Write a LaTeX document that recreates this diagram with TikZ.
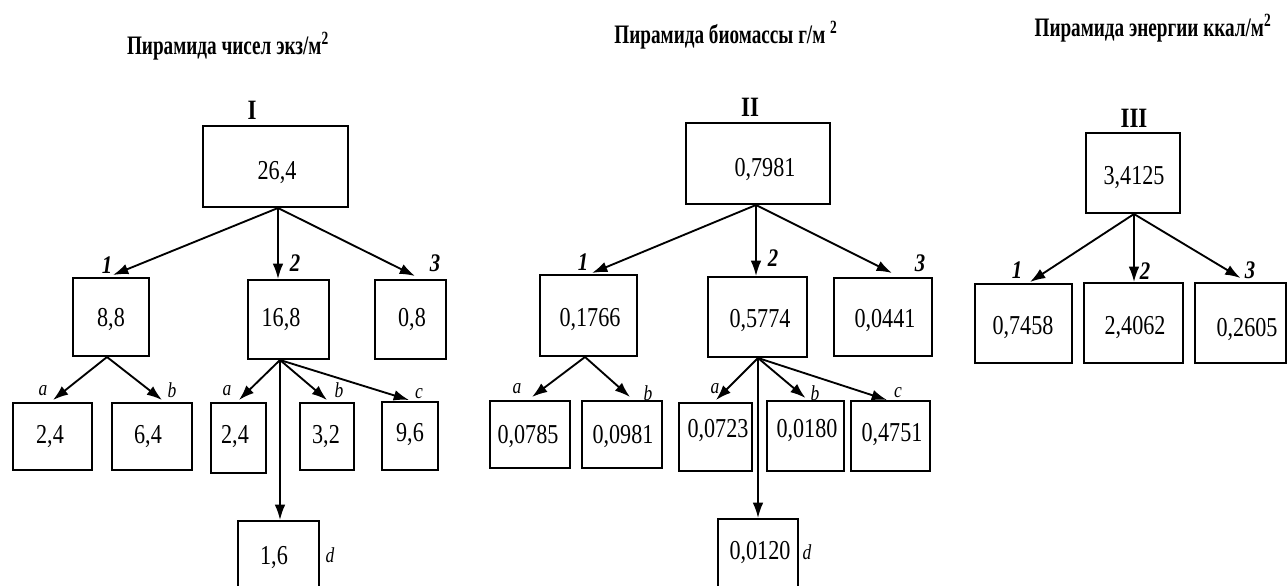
\documentclass[tikz,border=0pt]{standalone}
\usepackage{fontspec}
\setmainfont{Liberation Serif}
\newfontfamily\numfont{Liberation Serif}[FakeStretch=0.81]
\newfontfamily\ttlfont{Liberation Serif}[FakeStretch=0.72]
\newfontfamily\lblfont{Liberation Serif}[FakeStretch=0.82]
\usetikzlibrary{arrows.meta,calc}
\begin{document}
\begin{tikzpicture}[x=0.75pt,y=-0.75pt,
  box/.style n args={2}{draw, line width=1.5pt, inner sep=0pt, minimum width=#1*0.75pt, minimum height=#2*0.75pt},
  num/.style={font=\numfont\fontsize{20.5}{22}\selectfont, inner sep=0pt, text depth=0pt},
  ttl/.style={font=\ttlfont\fontsize{20}{22}\selectfont\bfseries, inner sep=0pt, text depth=0pt},
  rom/.style={font=\lblfont\fontsize{21}{23}\selectfont\bfseries, inner sep=0pt, text depth=0pt},
  lvl/.style={font=\lblfont\fontsize{19}{21}\selectfont\bfseries\itshape, inner sep=0pt, text depth=0pt},
  sub/.style={font=\lblfont\fontsize{16}{18}\selectfont\itshape, inner sep=0pt, text depth=0pt},
  arr/.style={line width=1.4pt, -{Latex[length=11.5pt,width=8pt]}}]
\useasboundingbox (0,0) rectangle (1287,585);
\clip (0,0) rectangle (1287,585);

% ---------- titles ----------
\node[ttl] (T1) at (228,43) {Пирамида чисел экз/м\textsuperscript{2}};
\node[ttl] (T2) at (726,32) {Пирамида биомассы г/м \textsuperscript{2}};
\node[ttl] (T3) at (1153,25) {Пирамида энергии ккал/м\textsuperscript{2}};

% ---------- pyramid I ----------
\node[box={145}{81}] (I) at (275.5,166.5) {};
\node[num] (tI) at (277,170) {26,4};
\node[rom] (lI) at (252,110) {I};

\node[box={76}{78}] (n1) at (111,317) {};
\node[num] (tn1) at (111,317) {8,8};
\node[box={81}{79}] (n2) at (288.5,319.5) {};
\node[num] (tn2) at (281,317) {16,8};
\node[box={71}{79}] (n3) at (410.5,319.5) {};
\node[num] (tn3) at (412,317) {0,8};

\node[box={79}{67}] (m1) at (52.5,436.5) {};
\node[num] (tm1) at (50,434) {2,4};
\node[box={80}{67}] (m2) at (152,436.5) {};
\node[num] (tm2) at (148,434) {6,4};
\node[box={55}{70}] (m3) at (238.5,438) {};
\node[num] (tm3) at (235,434) {2,4};
\node[box={54}{67}] (m4) at (327,436.5) {};
\node[num] (tm4) at (326,434) {3,2};
\node[box={56}{68}] (m5) at (410,436) {};
\node[num] (tm5) at (410,432) {9,6};
\node[box={81}{70}] (m6) at (278.5,556) {};
\node[num] (tm6) at (274,555) {1,6};

\coordinate (sI) at ($(I.south)+(2.5,0)$);
\draw[arr] (sI) -- ($(n1.north)+(2,-2)$);
\draw[arr] (sI) -- (sI |- n2.north);
\draw[arr] (sI) -- ($(n3.north)+(4.5,-3)$);
\coordinate (s1) at ($(n1.south)+(-4,0)$);
\draw[arr] (s1) -- ($(m1.north)+(0.5,-2)$);
\draw[arr] (s1) -- ($(m2.north)+(10,-2)$);
\coordinate (s2) at ($(n2.south)+(-8.5,0)$);
\draw[arr] (s2) -- ($(m3.north)+(0.5,-2)$);
\draw[arr] (s2) -- ($(m4.north)+(0,-2)$);
\draw[arr] (s2) -- ($(m5.north)+(-1,-1)$);
\draw[arr] (s2) -- (s2 |- m6.north);

\node[lvl] (L11) at (107,265) {1};
\node[lvl] (L12) at (295,263) {2};
\node[lvl] (L13) at (435,263) {3};
\node[sub] (a1) at (43,390) {a};
\node[sub] (b1) at (172,390) {b};
\node[sub] (a2) at (227,390) {a};
\node[sub] (b2) at (339,390) {b};
\node[sub] (c2) at (419,393) {c};
\node[sub] (d2) at (330,555) {d};

% ---------- pyramid II ----------
\node[box={144}{81}] (II) at (758,163.5) {};
\node[num] (tII) at (765,167) {0,7981};
\node[rom] (lII) at (750,107) {II};

\node[box={97}{81}] (p1) at (588.5,315.5) {};
\node[num] (tp1) at (590,317) {0,1766};
\node[box={99}{80}] (p2) at (757.5,317) {};
\node[num] (tp2) at (760,318) {0,5774};
\node[box={98}{78}] (p3) at (883,317) {};
\node[num] (tp3) at (885,318) {0,0441};

\node[box={80}{67}] (q1) at (530,434.5) {};
\node[num] (tq1) at (528,434) {0,0785};
\node[box={80}{67}] (q2) at (622,434.5) {};
\node[num] (tq2) at (623,434) {0,0981};
\node[box={73}{68}] (q3) at (715.5,437) {};
\node[num] (tq3) at (718,428) {0,0723};
\node[box={77}{70}] (q4) at (805.5,436) {};
\node[num] (tq4) at (807,428) {0,0180};
\node[box={79}{70}] (q5) at (890.5,436) {};
\node[num] (tq5) at (892,432) {0,4751};
\node[box={80}{70}] (q6) at (758,554) {};
\node[num] (tq6) at (760,550) {0,0120};

\coordinate (sII) at ($(II.south)+(-2,0)$);
\draw[arr] (sII) -- ($(p1.north)+(3.5,-1)$);
\draw[arr] (sII) -- (sII |- p2.north);
\draw[arr] (sII) -- ($(p3.north)+(9,-4)$);
\coordinate (s3) at ($(p1.south)+(-3.5,0)$);
\draw[arr] (s3) -- ($(q1.north)+(2,-3)$);
\draw[arr] (s3) -- ($(q2.north)+(8,-3)$);
\coordinate (s4) at ($(p2.south)+(0.5,0)$);
\draw[arr] (s4) -- ($(q3.north)+(0.5,-2)$);
\draw[arr] (s4) -- ($(q4.north)+(0,-2)$);
\draw[arr] (s4) -- ($(q5.north)+(-3.5,0)$);
\draw[arr] (s4) -- (s4 |- q6.north);

\node[lvl] (L21) at (583,262) {1};
\node[lvl] (L22) at (773,258) {2};
\node[lvl] (L23) at (920,263) {3};
\node[sub] (a3) at (517,388) {a};
\node[sub] (b3) at (648,393) {b};
\node[sub] (a4) at (715,388) {a};
\node[sub] (b4) at (815,393) {b};
\node[sub] (c4) at (898,392) {c};
\node[sub] (d4) at (807,552) {d};

% ---------- pyramid III ----------
\node[box={94}{80}] (III) at (1133,173) {};
\node[num] (tIII) at (1134,175) {3,4125};
\node[rom] (lIII) at (1134,118) {III};

\node[box={97}{79}] (r1) at (1023.5,323.5) {};
\node[num] (tr1) at (1023,325) {0,7458};
\node[box={99}{80}] (r2) at (1133.5,323) {};
\node[num] (tr2) at (1135,325) {2,4062};
\node[box={91}{80}] (r3) at (1240.5,323) {};
\node[num] (tr3) at (1247,327) {0,2605};

\coordinate (sIII) at ($(III.south)+(1,0)$);
\draw[arr] (sIII) -- ($(r1.north)+(6.5,-1)$);
\draw[arr] (sIII) -- (sIII |- r2.north);
\draw[arr] (sIII) -- ($(r3.north)+(0,-4)$);

\node[lvl] (L31) at (1017,270) {1};
\node[lvl] (L32) at (1145,271) {2};
\node[lvl] (L33) at (1250,270) {3};
\end{tikzpicture}
\end{document}
